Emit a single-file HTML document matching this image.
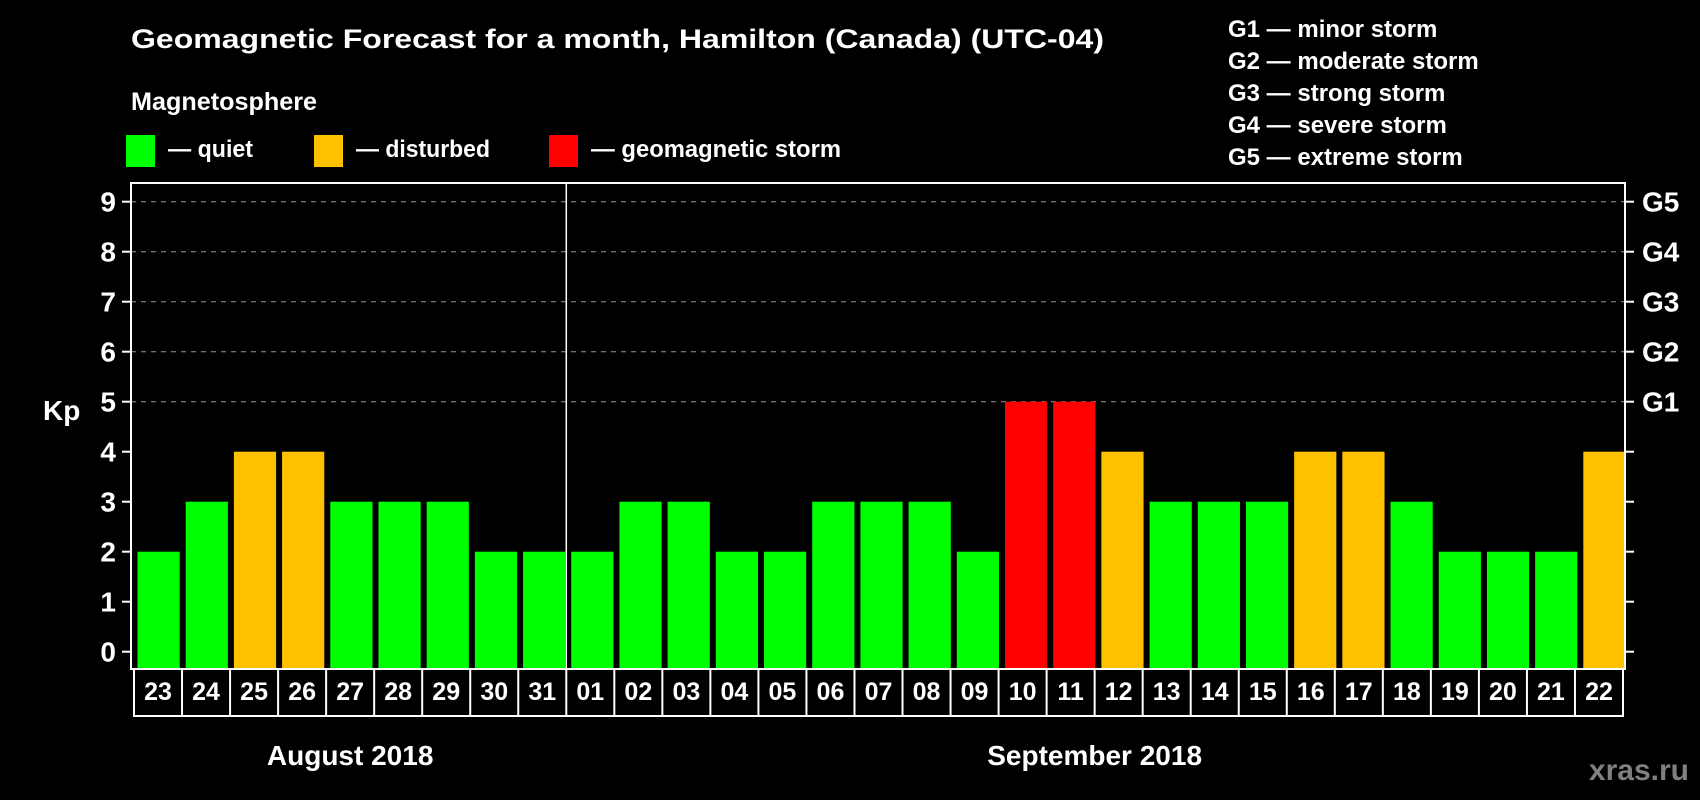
<!DOCTYPE html>
<html><head><meta charset="utf-8"><style>
html,body{margin:0;padding:0;background:#000;}
svg{display:block;font-family:"Liberation Sans",Arial,sans-serif;font-weight:bold;}
</style></head><body>
<svg id="chart" width="1700" height="800" viewBox="0 0 1700 800" xmlns="http://www.w3.org/2000/svg">
<rect width="1700" height="800" fill="#000"/>
<text x="131" y="48" fill="#fff" font-size="27" textLength="973" lengthAdjust="spacingAndGlyphs">Geomagnetic Forecast for a month, Hamilton (Canada) (UTC-04)</text>
<text x="131" y="110" fill="#fff" font-size="25" textLength="186" lengthAdjust="spacingAndGlyphs">Magnetosphere</text>
<g>
<rect x="126" y="135" width="29" height="32" fill="#00ff00"/>
<text x="168" y="157" fill="#fff" font-size="24" textLength="85" lengthAdjust="spacingAndGlyphs">— quiet</text></g>
<g>
<rect x="314" y="135" width="29" height="32" fill="#ffc000"/>
<text x="356" y="157" fill="#fff" font-size="24" textLength="134" lengthAdjust="spacingAndGlyphs">— disturbed</text></g>
<g>
<rect x="549" y="135" width="29" height="32" fill="#ff0000"/>
<text x="591" y="157" fill="#fff" font-size="24" textLength="250" lengthAdjust="spacingAndGlyphs">— geomagnetic storm</text></g>
<g fill="#fff" font-size="24">
<text x="1228" y="37">G1 — minor storm</text>
<text x="1228" y="69">G2 — moderate storm</text>
<text x="1228" y="101">G3 — strong storm</text>
<text x="1228" y="133">G4 — severe storm</text>
<text x="1228" y="165">G5 — extreme storm</text>
</g>
<text x="43" y="420" fill="#fff" font-size="28" font-weight="bold">Kp</text>
<text x="1689" y="780" fill="#808080" font-size="30" text-anchor="end">xras.ru</text>
<g id="grid"></g>
<g id="bars"></g>
<g id="axes"></g>
<rect x="131" y="183" width="1494" height="486" fill="none" stroke="#fff" stroke-width="2"/>
</svg>
<script>
const days = ["23","24","25","26","27","28","29","30","31","01","02","03","04","05","06","07","08","09","10","11","12","13","14","15","16","17","18","19","20","21","22"];
const kpValues = [2,3,4,4,3,3,3,2,2,2,3,3,2,2,3,3,3,2,5,5,4,3,3,3,4,4,3,2,2,2,4];
const yTicks = [0,1,2,3,4,5,6,7,8,9];
const gLabels = ["G1","G2","G3","G4","G5"];
const months = [{name:"August 2018", start:0, end:9},{name:"September 2018", start:9, end:31}];

const NS="http://www.w3.org/2000/svg";
const x0=131, x1=1625, yZero=651.7, unit=50, plotBottom=669;
const step=(x1-x0)/days.length;
const y=v=>yZero-unit*v;
const xs=i=>x0+i*step;
function mk(tag,attrs,parent){const e=document.createElementNS(NS,tag);for(const k in attrs)e.setAttribute(k,attrs[k]);parent.appendChild(e);return e;}
const grid=document.getElementById('grid'),bars=document.getElementById('bars'),axes=document.getElementById('axes');

yTicks.forEach(v=>{
  if(v>=5){const l=mk('line',{x1:x0,x2:x1,y1:y(v),y2:y(v),stroke:'#999','stroke-width':1,'stroke-dasharray':'5,5'},grid);
  
  }
  const t=mk('line',{x1:x0-9,x2:x0,y1:y(v),y2:y(v),stroke:'#fff','stroke-width':2},axes);
  
  
  const tr=mk('line',{x1:x1,x2:x1+9,y1:y(v),y2:y(v),stroke:'#fff','stroke-width':2},axes);
  
  
  const lb=mk('text',{x:116,y:y(v)+10,fill:'#fff','font-size':28,'text-anchor':'end'},axes);
  lb.textContent=v;
  
  
});
gLabels.forEach((g,i)=>{
  const lb=mk('text',{x:1642,y:y(5+i)+10,fill:'#fff','font-size':28},axes);
  lb.textContent=g;
  
  
});
kpValues.forEach((v,i)=>{
  const col=v>=5?'#ff0000':(v>=4?'#ffc000':'#00ff00');
  const b=mk('rect',{x:xs(i)+6.5,y:y(v),width:step-6,height:plotBottom-y(v),fill:col},bars);
  
  
});
// date boxes
const bx0=134, bx1=1623, bstep=(bx1-bx0)/days.length;
const box=mk('rect',{x:bx0,y:669,width:bx1-bx0,height:47,fill:'none',stroke:'#fff','stroke-width':2},axes);


days.forEach((d,i)=>{
  if(i>0){const s=mk('line',{x1:bx0+i*bstep,x2:bx0+i*bstep,y1:669,y2:716,stroke:'#fff','stroke-width':2},axes);
  
  }
  const t=mk('text',{x:bx0+(i+0.5)*bstep,y:700,fill:'#fff','font-size':25,'text-anchor':'middle'},axes);
  t.textContent=d;
  
  
});
// month divider
const md=mk('line',{x1:bx0+9*bstep,x2:bx0+9*bstep,y1:183,y2:669,stroke:'#fff','stroke-width':1.5},axes);


months.forEach(m=>{
  const cx=(bx0+m.start*bstep+bx0+m.end*bstep)/2;
  const t=mk('text',{x:cx,y:765,fill:'#fff','font-size':28,'text-anchor':'middle'},axes);
  t.textContent=m.name;
  
  
});
</script>
</body></html>
